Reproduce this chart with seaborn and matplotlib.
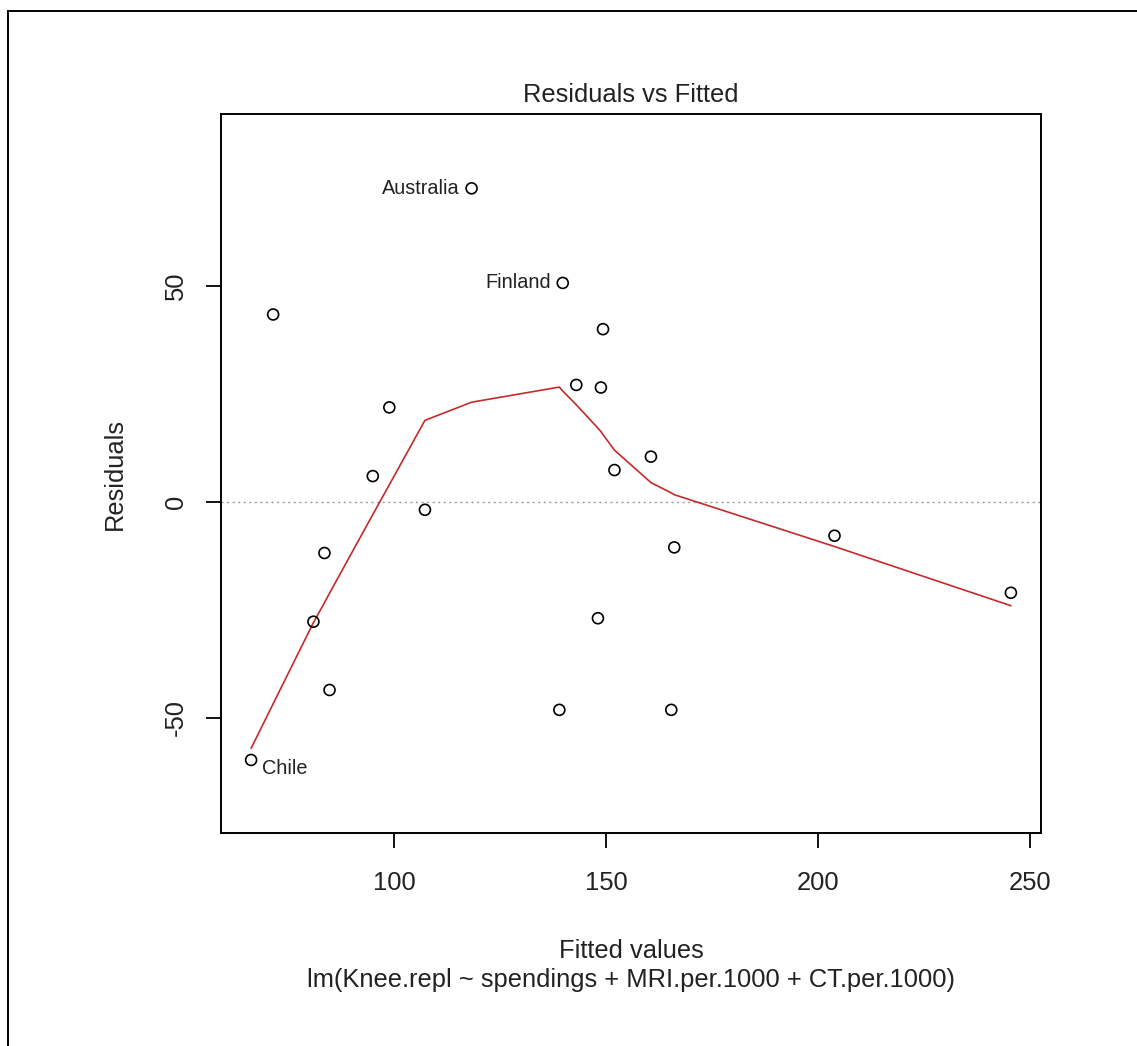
import matplotlib
matplotlib.use("Agg")
import matplotlib.pyplot as plt
from matplotlib.patches import Rectangle
import seaborn as sns
import pandas as pd

# ---- data ----
fitted = [66.2, 71.4, 80.9, 83.5, 84.7, 94.9, 98.8, 107.2, 118.2, 138.9, 139.7,
          142.9, 148.0, 148.7, 149.2, 151.9, 160.5, 165.3, 166.0, 203.8, 245.4]
residuals = [-59.8, 43.3, -27.8, -11.9, -43.6, 5.9, 21.8, -1.9, 72.5, -48.2, 50.6,
             27.0, -27.0, 26.4, 39.9, 7.3, 10.4, -48.2, -10.6, -7.9, -21.1]
smooth = [-57.1, -46.8, -28.0, -23.4, -21.2, -3.0, 3.9, 18.8, 23.0, 26.5, 25.6,
          22.4, 17.0, 16.2, 15.5, 11.9, 4.4, 2.0, 1.6, -10.4, -24.1]
point_labels = ["Chile", "", "", "", "", "", "", "", "Australia", "", "Finland",
                "", "", "", "", "", "", "", "", "", ""]
x_ticks = [100, 150, 200, 250]
y_ticks = [-50, 0, 50]
title = "Residuals vs Fitted"
x_label = "Fitted values"
y_label = "Residuals"
sub_caption = "lm(Knee.repl ~ spendings + MRI.per.1000 + CT.per.1000)"

df = pd.DataFrame({"fitted": fitted, "residuals": residuals,
                   "smooth": smooth, "label": point_labels})

# ---- style ----
sns.set_style("white")
plt.rcParams["font.family"] = ["Liberation Sans", "DejaVu Sans"]
TXT = "#222222"

fig = plt.figure(figsize=(11.37, 10.46), dpi=100)
ax = fig.add_axes([221 / 1137, 1 - 833 / 1046, (1041 - 221) / 1137, (833 - 114) / 1046])

# zero reference line
ax.axhline(0, color="#9a9a9a", lw=1.0, ls=(0, (1.5, 2.5)), zorder=1)

# smoother
sns.lineplot(data=df, x="fitted", y="smooth", ax=ax, color="#C42A2A",
             lw=1.2, sort=False, estimator=None, zorder=2)

# points
sns.scatterplot(data=df, x="fitted", y="residuals", ax=ax, marker="o", s=62,
                facecolor="none", edgecolor="black", linewidth=1.2, zorder=3)

# labels of extreme points
for xv, yv, lab in zip(fitted, residuals, point_labels):
    if not lab:
        continue
    if lab == "Chile":
        ax.annotate(lab, (xv, yv), xytext=(7.5, -6), textcoords="offset points",
                    ha="left", va="center", fontsize=14.3, color=TXT)
    else:
        ax.annotate(lab, (xv, yv), xytext=(-8.3, 0), textcoords="offset points",
                    ha="right", va="center", fontsize=14.3, color=TXT)

ax.set_xlim(59.1, 252.5)
ax.set_ylim(-76.7, 89.7)
ax.set_xticks(x_ticks)
ax.set_yticks(y_ticks)
ax.set_xticklabels([str(t) for t in x_ticks])
ax.set_yticklabels([str(t) for t in y_ticks], rotation=90, va="center")

for sp in ax.spines.values():
    sp.set_visible(True)
    sp.set_color("black")
    sp.set_linewidth(1.4)

ax.tick_params(axis="both", which="major", bottom=True, left=True,
               top=False, right=False, direction="out", length=11, width=1.3,
               color="black", labelsize=18.4, labelcolor=TXT)
ax.tick_params(axis="x", pad=16.5)
ax.tick_params(axis="y", pad=12.5)

ax.set_title(title, fontsize=18.4, color=TXT, pad=8.9)
ax.set_xlabel(x_label, fontsize=18.4, color=TXT)
ax.set_ylabel(y_label, fontsize=18.4, color=TXT)
ax.xaxis.set_label_coords(0.5, -(939 - 833) / 719)
ax.yaxis.set_label_coords(-(221 - 127) / 820, 0.5)

fig.text(631 / 1137, 1 - 987 / 1046, sub_caption, ha="center", va="baseline",
         fontsize=18.4, color=TXT)

# outer device frame (cropped on right/bottom)
fig.patches.append(Rectangle((8 / 1137, -0.05), 1.1, 1.05 - 11 / 1046,
                             transform=fig.transFigure, fill=False,
                             edgecolor="black", lw=1.4, clip_on=False))

fig.savefig("out.png", dpi=100, facecolor="white")
